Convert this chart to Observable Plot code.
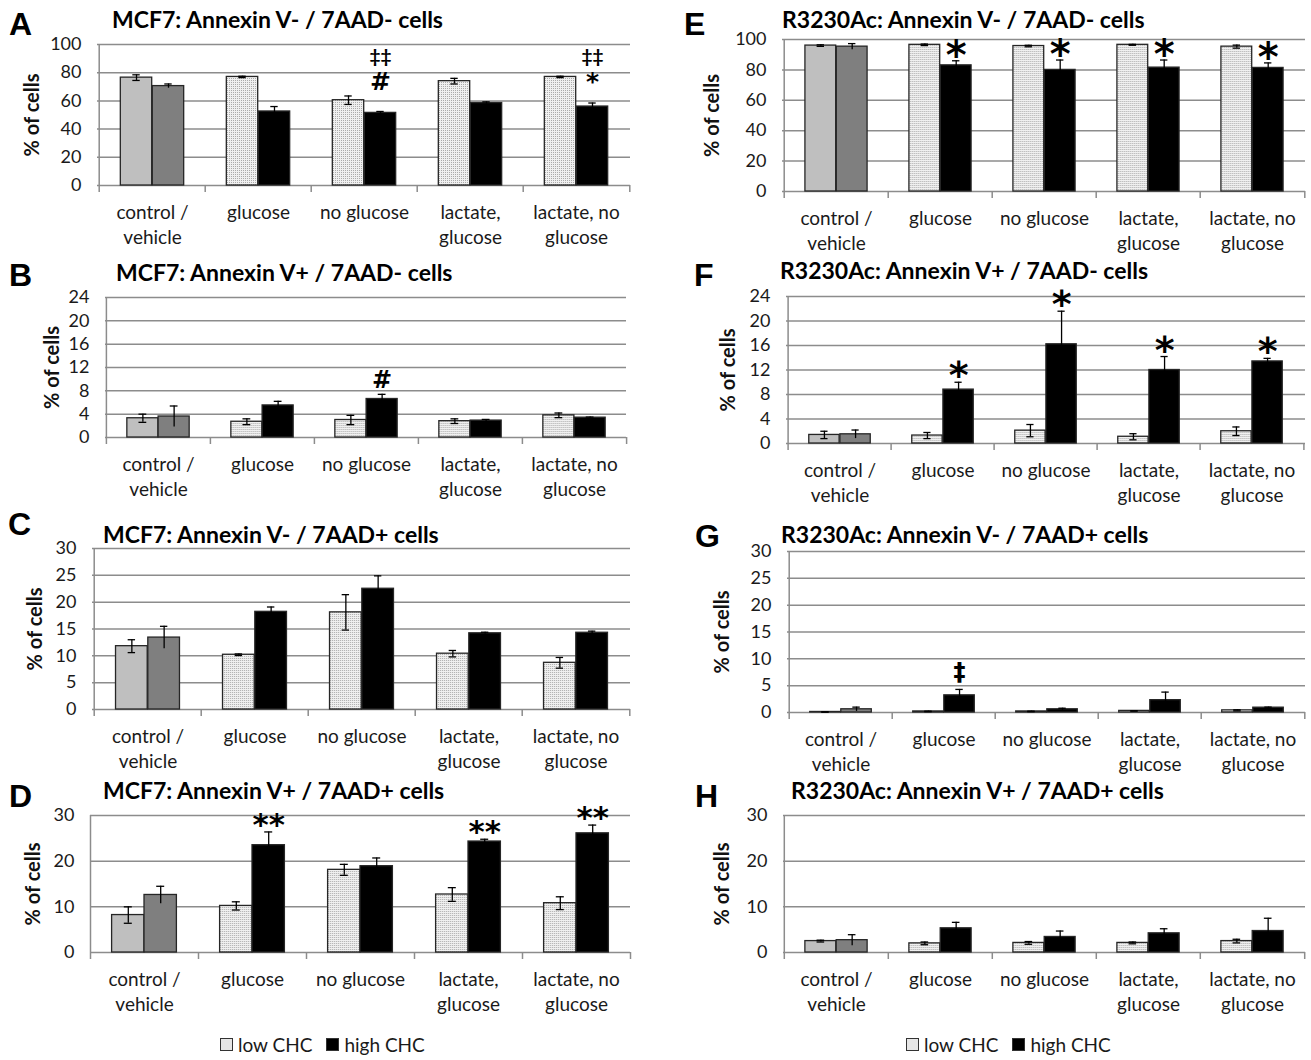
<!DOCTYPE html>
<html><head><meta charset="utf-8">
<script src="https://cdn.jsdelivr.net/npm/d3@7"></script>
<script src="https://cdn.jsdelivr.net/npm/@observablehq/plot@0.6"></script>
<style>
body{margin:0;background:#fff;font-family:Lato,"Open Sans",sans-serif;color:#1a1a1a;}
#page{position:relative;width:1311px;height:1060px;overflow:hidden;background:#fff;}
.abs{position:absolute;white-space:nowrap;line-height:1;}
.letter{font-weight:700;font-size:32px;font-family:"Liberation Sans",Arial,sans-serif;color:#000;}
.title{font-weight:700;font-size:23px;color:#000;}
.legend{font-size:19px;display:flex;align-items:center;color:#1a1a1a;}
.sw{display:inline-block;width:11px;height:11px;border:1px solid #333;margin-right:5px;}
.plotwrap{position:absolute;}
.plotwrap svg{overflow:visible;max-width:none;}
</style></head>
<body>
<svg width="0" height="0" style="position:absolute"><defs>
<pattern id="stip" width="2" height="2" patternUnits="userSpaceOnUse"><rect width="2" height="2" fill="#f0f0f0"/><rect width="1" height="1" fill="#aaaaaa"/></pattern>
</defs></svg>
<div id="page"></div>
<script>
// ---------- data ----------
const categories = ["control / vehicle", "glucose", "no glucose", "lactate, glucose", "lactate, no glucose"];
const categoryLabels = ["control /\nvehicle", "glucose", "no glucose", "lactate,\nglucose", "lactate, no\nglucose"];
const seriesNames = ["low CHC", "high CHC"];

const ticks100 = [0, 20, 40, 60, 80, 100];
const ticks24 = [0, 4, 8, 12, 16, 20, 24];
const ticks30by5 = [0, 5, 10, 15, 20, 25, 30];
const ticks30by10 = [0, 10, 20, 30];

// A: MCF7 Annexin V- / 7AAD-
const A_low = [76.5, 77.0, 60.5, 74.0, 77.0];
const A_lowErr = [2.0, 0.5, 3.0, 2.0, 0.5];
const A_high = [70.5, 52.5, 51.5, 58.5, 56.0];
const A_highErr = [1.5, 3.5, 1.0, 0.8, 2.5];
const A_noteUpper = ["", "", "‡‡", "", "‡‡"];
const A_noteLower = ["", "", "#", "", "*"];

// B: MCF7 Annexin V+ / 7AAD-
const B_low = [3.3, 2.7, 3.0, 2.8, 3.8];
const B_lowErr = [0.7, 0.5, 0.8, 0.4, 0.4];
const B_high = [3.6, 5.5, 6.6, 2.9, 3.4];
const B_highErr = [1.8, 0.7, 0.8, 0.2, 0.1];
const B_note = ["", "", "#", "", ""];

// C: MCF7 Annexin V- / 7AAD+
const C_low = [11.8, 10.2, 18.1, 10.4, 8.7];
const C_lowErr = [1.2, 0.15, 3.3, 0.6, 1.0];
const C_high = [13.4, 18.2, 22.5, 14.2, 14.3];
const C_highErr = [2.1, 0.9, 2.4, 0.2, 0.3];
const C_note = ["", "", "", "", ""];

// D: MCF7 Annexin V+ / 7AAD+
const D_low = [8.2, 10.2, 18.1, 12.7, 10.8];
const D_lowErr = [1.8, 0.9, 1.2, 1.5, 1.4];
const D_high = [12.6, 23.5, 18.9, 24.3, 26.1];
const D_highErr = [1.9, 2.9, 1.8, 0.5, 1.8];
const D_note = ["", "**", "", "**", "**"];

// E: R3230Ac Annexin V- / 7AAD-
const E_low = [96.0, 96.5, 95.7, 96.5, 95.3];
const E_lowErr = [0.5, 0.5, 0.5, 0.3, 1.0];
const E_high = [95.3, 83.0, 80.0, 81.5, 81.3];
const E_highErr = [2.0, 3.0, 6.5, 5.0, 3.3];
const E_note = ["", "*", "*", "*", "*"];

// F: R3230Ac Annexin V+ / 7AAD-
const F_low = [1.4, 1.3, 2.1, 1.1, 2.0];
const F_lowErr = [0.6, 0.5, 1.0, 0.5, 0.7];
const F_high = [1.5, 8.8, 16.2, 12.0, 13.4];
const F_highErr = [0.7, 1.2, 5.4, 2.2, 0.5];
const F_note = ["", "*", "*", "*", "*"];

// G: R3230Ac Annexin V- / 7AAD+
const G_low = [0.1, 0.2, 0.2, 0.3, 0.4];
const G_lowErr = [0.05, 0.05, 0.05, 0.05, 0.1];
const G_high = [0.6, 3.2, 0.6, 2.3, 0.9];
const G_highErr = [0.4, 1.1, 0.2, 1.5, 0.1];
const G_note = ["", "‡", "", "", ""];

// H: R3230Ac Annexin V+ / 7AAD+
const H_low = [2.5, 2.0, 2.1, 2.1, 2.5];
const H_lowErr = [0.2, 0.3, 0.3, 0.2, 0.4];
const H_high = [2.7, 5.3, 3.4, 4.2, 4.7];
const H_highErr = [1.2, 1.3, 1.3, 1.0, 2.8];
const H_note = ["", "", "", "", ""];

// ---------- layout ----------
const panels = [
  {letter:"A", title:"MCF7: Annexin V- / 7AAD- cells", lx:9, ly:8, tx:112, ty:8,
   x0:97, x1:630, yTop:44, yZero:185, ticks:ticks100, low:A_low, lowErr:A_lowErr, high:A_high, highErr:A_highErr,
   upper:A_noteUpper, lower:A_noteLower, labelX:32},
  {letter:"B", title:"MCF7: Annexin V+ / 7AAD- cells", lx:9, ly:259, tx:116, ty:261,
   x0:105, x1:626, yTop:297, yZero:437, ticks:ticks24, low:B_low, lowErr:B_lowErr, high:B_high, highErr:B_highErr,
   note:B_note, noteDy:6, noteSize:24, labelX:52},
  {letter:"C", title:"MCF7: Annexin V- / 7AAD+ cells", lx:8, ly:508, tx:103, ty:523,
   x0:92, x1:630, yTop:548, yZero:709, ticks:ticks30by5, low:C_low, lowErr:C_lowErr, high:C_high, highErr:C_highErr,
   note:C_note, labelX:35},
  {letter:"D", title:"MCF7: Annexin V+ / 7AAD+ cells", lx:9, ly:780, tx:103, ty:779,
   x0:90, x1:630, yTop:815, yZero:952, ticks:ticks30by10, low:D_low, lowErr:D_lowErr, high:D_high, highErr:D_highErr,
   note:D_note, noteDy:-3, noteSize:31, labelX:33},
  {letter:"E", title:"R3230Ac: Annexin V- / 7AAD- cells", lx:684, ly:8, tx:782, ty:8,
   x0:782, x1:1305, yTop:39, yZero:191, ticks:ticks100, low:E_low, lowErr:E_lowErr, high:E_high, highErr:E_highErr,
   note:E_note, noteDy:-8, noteSize:40, labelX:712},
  {letter:"F", title:"R3230Ac: Annexin V+ / 7AAD- cells", lx:694, ly:259, tx:780, ty:259,
   x0:786, x1:1305, yTop:296, yZero:443, ticks:ticks24, low:F_low, lowErr:F_lowErr, high:F_high, highErr:F_highErr,
   note:F_note, noteDy:-6, noteSize:38, labelX:728},
  {letter:"G", title:"R3230Ac: Annexin V- / 7AAD+ cells", lx:695, ly:520, tx:781, ty:523,
   x0:787, x1:1305, yTop:551, yZero:712, ticks:ticks30by5, low:G_low, lowErr:G_lowErr, high:G_high, highErr:G_highErr,
   note:G_note, noteDy:9, noteSize:24, labelX:722},
  {letter:"H", title:"R3230Ac: Annexin V+ / 7AAD+ cells", lx:695, ly:780, tx:791, ty:779,
   x0:783, x1:1305, yTop:815, yZero:952, ticks:ticks30by10, low:H_low, lowErr:H_lowErr, high:H_high, highErr:H_highErr,
   note:H_note, labelX:722}
];

const page = document.getElementById("page");
const FONT = "Lato, 'Open Sans', sans-serif";
const SYM = "'DejaVu Sans', sans-serif";

function addDiv(cls, text, x, y) {
  const d = document.createElement("div");
  d.className = "abs " + cls;
  d.textContent = text;
  d.style.left = x + "px";
  d.style.top = y + "px";
  page.appendChild(d);
  return d;
}

function drawPanel(p) {
  const ml = 80, mr = 8, mt = 44, mb = 80;
  const W = p.x1 - p.x0, H = p.yZero - p.yTop;
  const bw = W / categories.length;
  const barW = bw * 0.3;
  const capW = 8;
  const yMax = p.ticks[p.ticks.length - 1];
  const rows = categories.map((c, i) => ({
    cat: c, i, low: p.low[i], lowErr: p.lowErr[i], high: p.high[i], highErr: p.highErr[i],
    note: p.note ? p.note[i] : "", upper: p.upper ? p.upper[i] : "", lower: p.lower ? p.lower[i] : ""
  }));
  const lowFill = d => d.i === 0 ? "#bfbfbf" : "url(#stip)";
  const highFill = d => d.i === 0 ? "#7f7f7f" : "#000000";
  const side = (bw - barW) / 2;
  const capInset = (bw - capW) / 2;
  const grid = "#8c8c8c";

  const marks = [
    Plot.gridY(p.ticks, {stroke: grid, strokeOpacity: 1, strokeWidth: 1.5}),
    // bars
    Plot.barY(rows, {x: "cat", y1: 0, y2: "low", fill: lowFill, stroke: "#262626", strokeWidth: 1.3,
      insetLeft: side, insetRight: side, dx: -barW / 2}),
    Plot.barY(rows, {x: "cat", y1: 0, y2: "high", fill: highFill, stroke: "#262626", strokeWidth: 1.3,
      insetLeft: side, insetRight: side, dx: barW / 2}),
    // error bars
    Plot.ruleX(rows, {x: "cat", y1: d => d.low - d.lowErr, y2: d => d.low + d.lowErr, dx: -barW / 2, stroke: "#000", strokeWidth: 1.3}),
    Plot.tickY(rows, {x: "cat", y: d => d.low + d.lowErr, dx: -barW / 2, insetLeft: capInset, insetRight: capInset, stroke: "#000", strokeWidth: 1.3}),
    Plot.tickY(rows, {x: "cat", y: d => d.low - d.lowErr, dx: -barW / 2, insetLeft: capInset, insetRight: capInset, stroke: "#000", strokeWidth: 1.3}),
    Plot.ruleX(rows, {x: "cat", y1: d => d.high - d.highErr, y2: d => d.high + d.highErr, dx: barW / 2, stroke: "#000", strokeWidth: 1.3}),
    Plot.tickY(rows, {x: "cat", y: d => d.high + d.highErr, dx: barW / 2, insetLeft: capInset, insetRight: capInset, stroke: "#000", strokeWidth: 1.3}),
    // y axis line (with the first boundary tick)
    Plot.ruleX([categories[0]], {x: d => d, dx: -bw / 2, insetBottom: -7, stroke: grid, strokeWidth: 1.5}),
    // category boundary ticks
    Plot.ruleX(categories.slice(1), {x: d => d, dx: -bw / 2, insetTop: H, insetBottom: -7, stroke: grid, strokeWidth: 1.5}),
    Plot.ruleX([categories[categories.length - 1]], {x: d => d, dx: bw / 2, insetTop: H, insetBottom: -7, stroke: grid, strokeWidth: 1.5}),
    // y tick labels
    Plot.axisY(p.ticks, {tickSize: 0, tickPadding: 16, fontSize: 18, label: null, fill: "#1a1a1a"}),
    // category labels
    Plot.text(categories, {x: d => d, frameAnchor: "bottom", text: (d, i) => categoryLabels[i], lineAnchor: "top",
      dy: 16, fontSize: 19, lineHeight: 1.3, fill: "#1a1a1a"}),
    // y label
    Plot.text(["% of cells"], {frameAnchor: "left", rotate: -90, textAnchor: "middle", dx: p.labelX - p.x0,
      fontWeight: "bold", fontSize: 20, fill: "#111"})
  ];

  if (p.note) {
    marks.push(Plot.text(rows.filter(d => d.note), {x: "cat", y: d => d.high + d.highErr, text: "note", dx: barW / 2,
      dy: -p.noteDy, lineAnchor: "bottom", fontSize: p.noteSize, fontWeight: "bold", fill: "#000", fontFamily: SYM}));
  }
  if (p.upper) {
    marks.push(Plot.text(rows.filter(d => d.upper), {x: "cat", frameAnchor: "top", text: "upper", dx: barW / 2,
      dy: 12, lineAnchor: "middle", fontSize: 19, fontWeight: "bold", fill: "#000", fontFamily: FONT}));
    marks.push(Plot.text(rows.filter(d => d.lower), {x: "cat", frameAnchor: "top", text: "lower", dx: barW / 2,
      dy: 28, lineAnchor: "top", fontSize: 25, fontWeight: "bold", fill: "#000", fontFamily: SYM}));
  }

  const svg = Plot.plot({
    width: W + ml + mr, height: H + mt + mb,
    marginLeft: ml, marginRight: mr, marginTop: mt, marginBottom: mb,
    x: {domain: categories, padding: 0, axis: null},
    y: {domain: [0, yMax]},
    color: {type: "identity"},
    style: {fontFamily: FONT, background: "transparent", overflow: "visible"},
    marks
  });
  const wrap = document.createElement("div");
  wrap.className = "plotwrap";
  wrap.style.left = (p.x0 - ml) + "px";
  wrap.style.top = (p.yTop - mt) + "px";
  wrap.appendChild(svg);
  page.appendChild(wrap);

  addDiv("letter", p.letter, p.lx, p.ly);
  addDiv("title", p.title, p.tx, p.ty);
}

panels.forEach(drawPanel);

// legends
function legend(x, y) {
  const d = document.createElement("div");
  d.className = "abs legend";
  d.style.left = x + "px";
  d.style.top = y + "px";
  const sw1 = document.createElement("span"); sw1.className = "sw";
  sw1.style.background = "#e6e6e6";
  sw1.style.backgroundImage = "radial-gradient(#9a9a9a 0.6px, transparent 0.7px)";
  sw1.style.backgroundSize = "2px 2px";
  const t1 = document.createElement("span"); t1.textContent = seriesNames[0]; t1.style.marginRight = "14px";
  const sw2 = document.createElement("span"); sw2.className = "sw"; sw2.style.background = "#000";
  const t2 = document.createElement("span"); t2.textContent = seriesNames[1];
  d.append(sw1, t1, sw2, t2);
  page.appendChild(d);
}
legend(220, 1035);
legend(906, 1035);
</script>
</body></html>
